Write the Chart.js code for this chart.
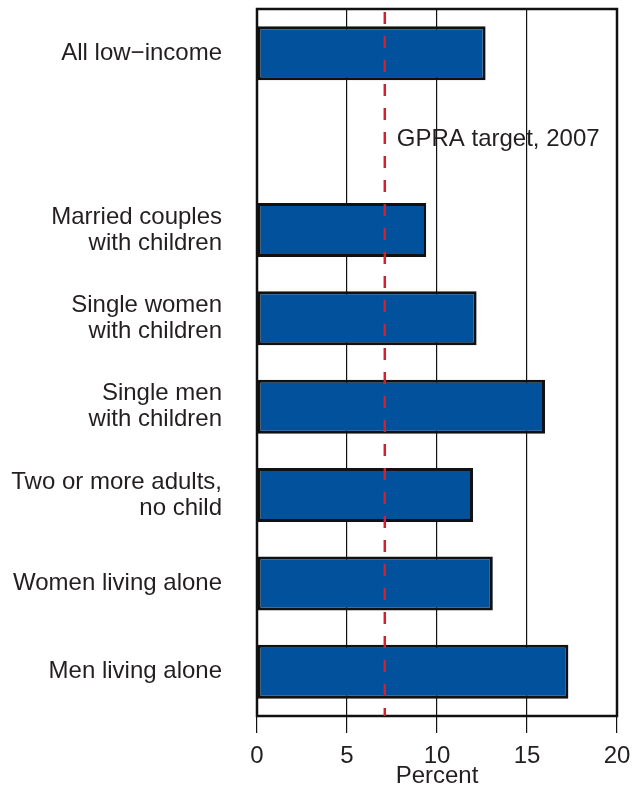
<!DOCTYPE html>
<html>
<head>
<meta charset="utf-8">
<script src="https://cdn.jsdelivr.net/npm/chart.js@4/dist/chart.umd.min.js"></script>
<style>
  html, body { margin: 0; padding: 0; background: #ffffff; }
  canvas { display: block; }
</style>
</head>
<body>
<canvas id="c" width="633" height="786"></canvas>
<script>
// ---- Data ----
const categories = [
  "All low\u2212income",
  "",
  ["Married couples", "with children"],
  ["Single women", "with children"],
  ["Single men", "with children"],
  ["Two or more adults,", "no child"],
  "Women living alone",
  "Men living alone"
];
const percentValues = [12.7, null, 9.4, 12.2, 16.0, 12.0, 13.1, 17.3];
const xTickValues = [0, 5, 10, 15, 20];
const targetValue = 7.1;
const targetLabel = "GPRA target, 2007";
const targetLabelCategoryIndex = 1;
const xAxisTitle = "Percent";

// ---- Styles ----
const FONT = "'Liberation Sans', Arial, Helvetica, sans-serif";
const TEXT = "#231f20";
const FSIZE = 24;

const framePlugin = {
  id: 'frameAndTarget',
  afterDatasetsDraw(chart) {
    const {ctx, chartArea: a, scales} = chart;
    ctx.save();
    // frame
    ctx.strokeStyle = '#111111';
    ctx.lineWidth = 2.5;
    ctx.strokeRect(a.left, a.top, a.right - a.left, a.bottom - a.top);
    // target dashed line
    const x = scales.x.getPixelForValue(targetValue);
    ctx.strokeStyle = '#d1202f';
    ctx.lineWidth = 2.5;
    ctx.setLineDash([12, 12]);
    ctx.lineDashOffset = 21;
    ctx.beginPath();
    ctx.moveTo(x, a.top);
    ctx.lineTo(x, a.bottom);
    ctx.stroke();
    ctx.setLineDash([]);
    // label
    const y = scales.y.getPixelForValue(targetLabelCategoryIndex);
    ctx.fillStyle = TEXT;
    ctx.font = FSIZE + "px " + FONT;
    ctx.textAlign = 'left';
    ctx.textBaseline = 'alphabetic';
    ctx.fillText(targetLabel, x + 12, y + 4);
    ctx.restore();
  }
};

new Chart(document.getElementById('c'), {
  type: 'bar',
  data: {
    labels: categories,
    datasets: [{
      data: percentValues,
      backgroundColor: '#02519c',
      borderColor: '#111111',
      borderWidth: 3,
      borderSkipped: false,
      barPercentage: 0.61,
      categoryPercentage: 1.0
    }]
  },
  options: {
    indexAxis: 'y',
    responsive: false,
    animation: false,
    devicePixelRatio: 1,
    layout: { padding: { top: 9, right: 16, bottom: 0, left: 0 } },
    plugins: {
      legend: { display: false },
      tooltip: { enabled: false }
    },
    scales: {
      x: {
        type: 'linear',
        min: 0,
        max: 20,
        afterBuildTicks(scale) { scale.ticks = xTickValues.map(v => ({ value: v })); },
        afterFit(scale) { scale.height = 70; scale.paddingLeft = 0; scale.paddingRight = 0; },
        grid: {
          color: '#111111',
          lineWidth: 1.2,
          tickLength: 17,
          drawTicks: true
        },
        border: { display: false },
        ticks: {
          padding: 10,
          color: TEXT,
          font: { family: FONT, size: FSIZE, lineHeight: 26 / FSIZE },
          maxRotation: 0
        },
        title: {
          display: true,
          text: xAxisTitle,
          color: TEXT,
          font: { family: FONT, size: FSIZE, lineHeight: 26 / FSIZE },
          padding: { top: 0, bottom: -3 }
        }
      },
      y: {
        type: 'category',
        afterFit(scale) { scale.width = 257; scale.paddingTop = 0; scale.paddingBottom = 0; },
        grid: { display: false, drawTicks: false },
        border: { display: false },
        ticks: {
          padding: 35,
          color: TEXT,
          font: { family: FONT, size: FSIZE, lineHeight: 26 / FSIZE },
          autoSkip: false
        }
      }
    }
  },
  plugins: [framePlugin]
});
</script>
</body>
</html>
